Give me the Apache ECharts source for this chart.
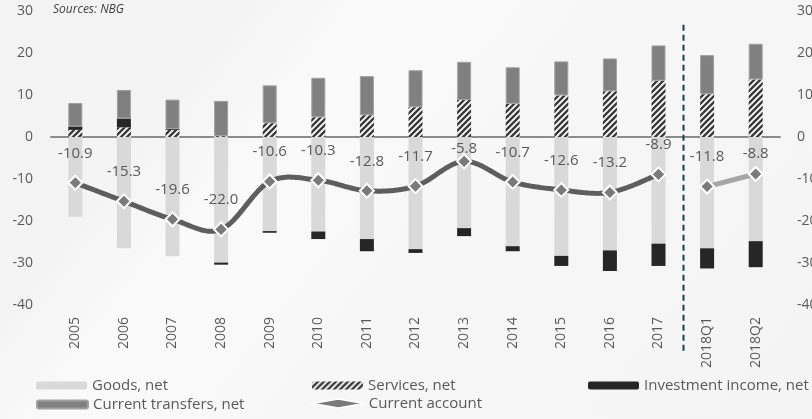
<!DOCTYPE html>
<html>
<head>
<meta charset="utf-8">
<script src="https://cdn.jsdelivr.net/npm/echarts@6/dist/echarts.min.js"></script>
<style>
  html, body { margin: 0; padding: 0; }
  #chart {
    width: 812px; height: 419px;
    background: linear-gradient(128deg, #f3f3f3 0%, #f4f4f4 22%, #fafafa 34%, #f7f7f7 55%, #f4f4f4 100%);
  }
</style>
</head>
<body>
<div id="chart"></div>
<script>
// Georgia current account components, % of GDP
const categories = ['2005','2006','2007','2008','2009','2010','2011','2012','2013','2014','2015','2016','2017','2018Q1','2018Q2'];
const goods      = [-19.0,-26.5,-28.4,-29.9,-22.4,-22.5,-24.3,-26.7,-21.7,-26.0,-28.3,-27.0,-25.4,-26.5,-24.8];
const services   = [1.7, 2.3, 1.7, 0.2, 3.3, 4.7, 5.2, 7.1, 8.8, 7.9, 9.9, 10.9, 13.4, 10.2, 13.7];
const investment = [0.8, 2.1, 0.2, -0.5, -0.4, -1.8, -2.9, -0.9, -1.9, -1.2, -2.4, -4.9, -5.3, -4.8, -6.2];
const transfers  = [5.6, 6.8, 7.0, 8.4, 9.0, 9.4, 9.3, 8.8, 9.1, 8.7, 8.1, 7.8, 8.4, 9.3, 8.5];
const currentAccount = [-10.9,-15.3,-19.6,-22.0,-10.6,-10.3,-12.8,-11.7,-5.8,-10.7,-12.6,-13.2,-8.9,-11.8,-8.8];
const yTicks = { min: -40, max: 30, step: 10 };
const annualCount = 13; // 2005..2017, quarters follow

// diagonal hatch used for services
function hatch() {
  const c = document.createElement('canvas');
  c.width = 6; c.height = 6;
  const g = c.getContext('2d');
  g.fillStyle = '#ffffff';
  g.fillRect(0, 0, 6, 6);
  g.strokeStyle = '#3a3a3a';
  g.lineWidth = 2.4;
  g.beginPath();
  for (let k = -6; k <= 12; k += 6) {
    g.moveTo(k - 1, 7);
    g.lineTo(k + 7, -1);
  }
  g.stroke();
  return { image: c, repeat: 'repeat' };
}
const hatchFill = hatch();

const textColor = '#595959';
const fontFamily = '"Open Sans", "Noto Sans", sans-serif';

// gap between label and marker (a couple sit closer to their markers)
const liftFor = i => (i === 8 ? -3 : i === 14 ? 5 : 14);

const annualData = currentAccount.map((v, i) => i < annualCount ? {
  value: v, label: { distance: liftFor(i) }
} : null);
const quarterData = currentAccount.map((v, i) => i >= annualCount ? {
  value: v, label: { distance: liftFor(i) }
} : null);

const lineLabel = {
  show: true, position: 'top', color: textColor, fontSize: 15, fontFamily,
  formatter: p => p.value.toFixed(1)
};

// Catmull-Rom spline through pixel points, sampled into a polyline
function catmullRom(pts, steps) {
  const out = [];
  for (let i = 0; i < pts.length - 1; i++) {
    const p0 = pts[Math.max(i - 1, 0)], p1 = pts[i], p2 = pts[i + 1], p3 = pts[Math.min(i + 2, pts.length - 1)];
    const c1 = [p1[0] + (p2[0] - p0[0]) / 6, p1[1] + (p2[1] - p0[1]) / 6];
    const c2 = [p2[0] - (p3[0] - p1[0]) / 6, p2[1] - (p3[1] - p1[1]) / 6];
    for (let s = (i === 0 ? 0 : 1); s <= steps; s++) {
      const t = s / steps, u = 1 - t;
      out.push([
        u * u * u * p1[0] + 3 * u * u * t * c1[0] + 3 * u * t * t * c2[0] + t * t * t * p2[0],
        u * u * u * p1[1] + 3 * u * u * t * c1[1] + 3 * u * t * t * c2[1] + t * t * t * p2[1]
      ]);
    }
  }
  return out;
}

const annualPairs = currentAccount.slice(0, annualCount).map((v, i) => [i, v]);

const chart = echarts.init(document.getElementById('chart'), null, { renderer: 'canvas' });

const legendBase = {
  orient: 'horizontal', itemWidth: 51, itemHeight: 8, itemGap: 0,
  textStyle: { color: textColor, fontSize: 15, fontFamily },
  selectedMode: false, padding: 0
};

const markerStyle = { color: '#7a7a7a', borderColor: '#ffffff', borderWidth: 2 };

const option = {
  animation: false,
  grid: { left: 51, right: 32, top: 11, bottom: 114, containLabel: false, outerBoundsMode: 'none' },
  xAxis: [
    {
      type: 'category', data: categories, position: 'top',
      axisLine: { onZero: true, lineStyle: { color: '#8c8c8c', width: 2 } },
      axisTick: { show: false }, axisLabel: { show: false }
    },
    {
      type: 'category', data: categories, position: 'bottom',
      axisLine: { show: false, onZero: false }, axisTick: { show: false },
      axisLabel: { rotate: 90, margin: 12, color: textColor, fontSize: 14, fontFamily }
    }
  ],
  yAxis: [
    {
      type: 'value', min: yTicks.min, max: yTicks.max, interval: yTicks.step,
      splitLine: { show: false }, axisLine: { show: false }, axisTick: { show: false },
      axisLabel: { margin: 18, color: textColor, fontSize: 14, fontFamily }
    },
    {
      type: 'value', min: yTicks.min, max: yTicks.max, interval: yTicks.step,
      position: 'right',
      splitLine: { show: false }, axisLine: { show: false }, axisTick: { show: false },
      axisLabel: { margin: 17, color: textColor, fontSize: 14, fontFamily }
    }
  ],
  legend: [
    Object.assign({}, legendBase, { left: 36, top: 378, data: ['Goods, net'] }),
    Object.assign({}, legendBase, { left: 312, top: 378, data: ['Services, net'] }),
    Object.assign({}, legendBase, { left: 588, top: 378, data: ['Investment income, net'] }),
    Object.assign({}, legendBase, { left: 36, top: 397, data: ['Current transfers, net'] }),
    Object.assign({}, legendBase, {
      left: 312, top: 396, itemHeight: 9,
      lineStyle: { color: '#5e5e5e', width: 5, opacity: 1 },
      data: [{
        name: 'Current account', icon: 'diamond',
        itemStyle: { color: '#7a7a7a', borderColor: '#ffffff', borderWidth: 1.5 },
        lineStyle: { color: '#5e5e5e', width: 5, opacity: 1 }
      }]
    })
  ],
  series: [
    {
      name: 'Goods, net', type: 'bar', stack: 'ca', barWidth: 14, data: goods,
      itemStyle: { color: '#d9d9d9' }
    },
    {
      name: 'Services, net', type: 'bar', stack: 'ca', barWidth: 14, data: services,
      itemStyle: { color: hatchFill }
    },
    {
      name: 'Investment income, net', type: 'bar', stack: 'ca', barWidth: 14, data: investment,
      itemStyle: { color: '#262626' }
    },
    {
      name: 'Current transfers, net', type: 'bar', stack: 'ca', barWidth: 14, data: transfers,
      itemStyle: { color: '#808080', borderColor: '#a0a0a0', borderWidth: 1 }
    },
    {
      // annual markers and labels; the curve itself is drawn by the spline series below
      name: 'Current account', type: 'line', data: annualData,
      connectNulls: false, z: 6,
      lineStyle: { color: '#5e5e5e', width: 5, opacity: 0 },
      symbol: 'diamond', symbolSize: 14,
      itemStyle: markerStyle,
      label: lineLabel
    },
    {
      name: 'Current account', type: 'line', data: quarterData,
      connectNulls: false, z: 6,
      lineStyle: { color: '#a6a6a6', width: 5 },
      symbol: 'diamond', symbolSize: 14,
      itemStyle: markerStyle,
      label: lineLabel
    },
    {
      // smooth annual curve
      type: 'custom', z: 5, data: annualPairs,
      encode: { x: 0, y: 1 },
      renderItem: (params, api) => {
        if (params.dataIndex !== 0) return null;
        const pix = annualPairs.map(p => api.coord(p));
        return {
          type: 'polyline',
          shape: { points: catmullRom(pix, 24) },
          style: { stroke: '#5e5e5e', lineWidth: 5, fill: null, lineJoin: 'round', lineCap: 'round' }
        };
      }
    }
  ]
};

chart.setOption(option);

// dashed divider between annual and quarterly data, plus the source note
const xA = chart.convertToPixel({ xAxisIndex: 0 }, annualCount - 1);
const xB = chart.convertToPixel({ xAxisIndex: 0 }, annualCount);
const divX = Math.round((xA + xB) / 2) + 0.5;
const divTop = chart.convertToPixel({ yAxisIndex: 0 }, 26.7);
chart.setOption({
  graphic: [
    {
      type: 'line', z: 10,
      shape: { x1: divX, y1: divTop, x2: divX, y2: 354 },
      style: { stroke: '#17404d', lineWidth: 2, lineDash: [6, 4] }
    },
    {
      type: 'text', left: 53, top: 4,
      style: { text: 'Sources: NBG', fill: '#404040', font: 'italic 12px "Open Sans", "Noto Sans", sans-serif' }
    }
  ]
});
</script>
</body>
</html>
